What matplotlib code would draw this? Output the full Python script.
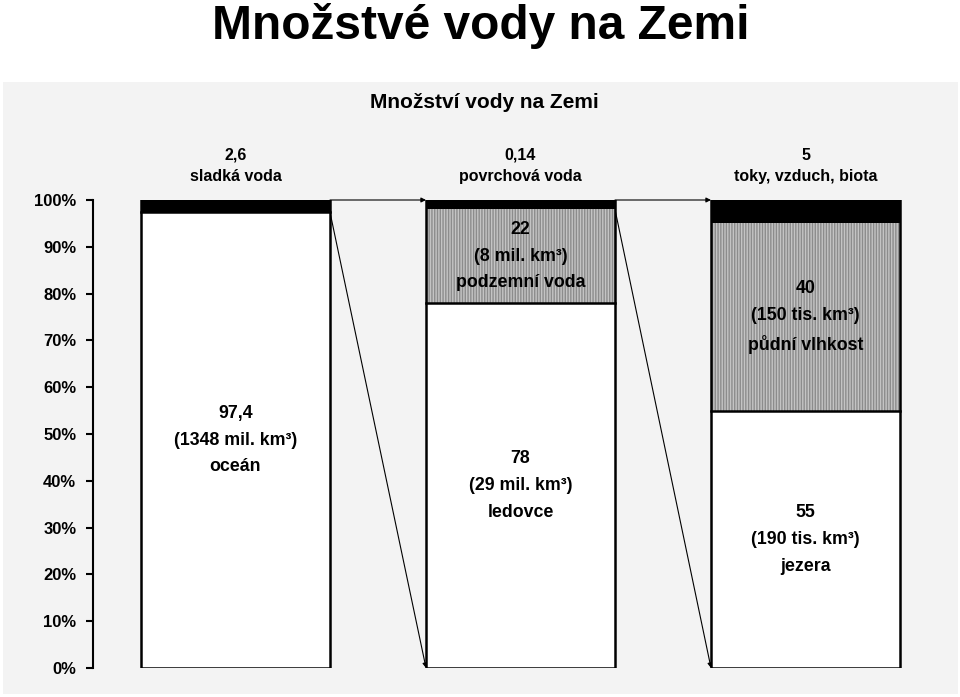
import numpy as np
import matplotlib.pyplot as plt
from matplotlib.patches import Rectangle

plt.rcParams['font.family'] = ['Liberation Sans', 'DejaVu Sans']
plt.rcParams['font.weight'] = 'bold'

# data
top_vals   = ['2,6', '0,14', '5']
top_names  = ['sladká voda', 'povrchová voda', 'toky, vzduch, biota']

low_seg    = [97.4, 78, 55]
low_vals   = ['97,4', '78', '55']
low_vol    = ['1348 mil.', '29 mil.', '190 tis.']
low_names  = ['oceán', 'ledovce', 'jezera']

mid_seg    = [0, 20, 40]
mid_vals   = ['', '22', '40']
mid_vol    = ['', '8 mil.', '150 tis.']
mid_names  = ['', 'podzemní voda', 'půdní vlhkost']

top_seg    = [2.6, 2, 5]

yticks = np.arange(0, 101, 10)

W, H = 960, 697
fig = plt.figure(figsize=(W/100, H/100), dpi=100)
fig.patch.set_facecolor('white')

# grey panel behind the chart
bg = fig.add_axes([3/W, 3/H, 955/W, 612/H])
bg.set_zorder(0)
bg.add_patch(Rectangle((0, 0), 1, 1, transform=bg.transAxes,
                       facecolor='#f3f3f3', edgecolor='none'))
bg.axis('off')

fig.text(481/W, 1 - 39/H, 'Množstvé vody na Zemi', ha='center', va='baseline',
         fontsize=34.5, fontweight='bold')
fig.text(484/W, 1 - 103/H, 'Množství vody na Zemi', ha='center', va='center',
         fontsize=15, fontweight='bold')

ax = fig.add_axes([93/W, 29/H, 855/W, 468/H])
ax.set_zorder(2)
ax.set_facecolor('none')
ax.set_xlim(-0.5, 2.5)
ax.set_ylim(0, 100)

x = np.arange(3)
w = 0.663
low = np.array(low_seg)
mid = np.array(mid_seg)
top = np.array(top_seg)

ax.bar(x, low, w, color='white', edgecolor='none', zorder=2)
ax.bar(x, mid, w, bottom=low, color='#c4c4c4', edgecolor='#8c8c8c', linewidth=0,
       hatch='||||||', zorder=2)
ax.bar(x, top, w, bottom=low + mid, color='black', edgecolor='none', zorder=2)
ax.bar(x, low + mid + top, w, fill=False, edgecolor='black', linewidth=1.8, zorder=3)
for i in range(3):
    ax.plot([x[i] - w/2, x[i] + w/2], [low[i], low[i]], color='black', lw=1.8, zorder=3)

for i in range(3):
    ax.text(x[i], low[i]/2, f'{low_vals[i]}\n({low_vol[i]} km³)\n{low_names[i]}',
            ha='center', va='center', fontsize=12.8, linespacing=1.75, zorder=4)
    if mid[i] > 0:
        ax.text(x[i], low[i] + mid[i]/2, f'{mid_vals[i]}\n({mid_vol[i]} km³)\n{mid_names[i]}',
                ha='center', va='center', fontsize=12.8, linespacing=1.75, zorder=4)
    ax.text(x[i], 107.3, f'{top_vals[i]}\n{top_names[i]}', ha='center', va='center',
            fontsize=11.5, linespacing=1.5)

# connecting arrows
ap = dict(arrowstyle='-|>', color='black', lw=0.8, mutation_scale=7,
          shrinkA=0, shrinkB=0)
for i in range(2):
    x0 = x[i] + w/2
    x1 = x[i + 1] - w/2
    ax.annotate('', xy=(x1, 100), xytext=(x0, 100), arrowprops=ap, zorder=1)
    ax.annotate('', xy=(x1, 0), xytext=(x0, low[i] + mid[i]), arrowprops=ap, zorder=1)

ax.set_yticks(yticks)
ax.set_yticklabels([f'{v}%' for v in yticks], fontsize=12, fontweight='bold')
ax.set_xticks([])
for s in ['top', 'right', 'bottom']:
    ax.spines[s].set_visible(False)
ax.spines['left'].set_linewidth(1.5)
ax.tick_params(axis='y', direction='out', length=5, width=1.5, pad=7)

fig.savefig('out.png', dpi=100)
